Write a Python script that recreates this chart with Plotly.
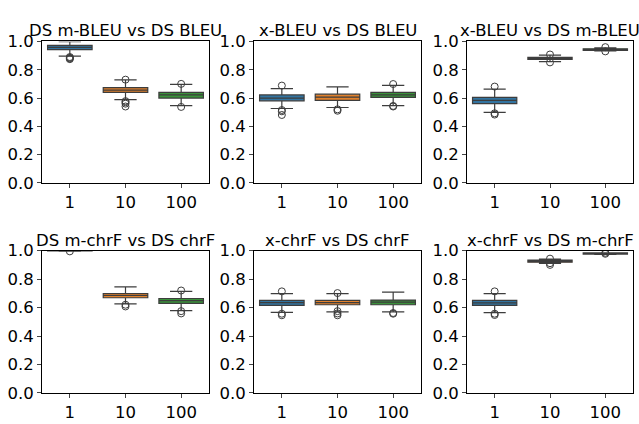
import plotly.graph_objects as go
from plotly.subplots import make_subplots

titles = ["DS m-BLEU vs DS BLEU", "x-BLEU vs DS BLEU", "x-BLEU vs DS m-BLEU",
          "DS m-chrF vs DS chrF", "x-chrF vs DS chrF", "x-chrF vs DS m-chrF"]
categories = ["1", "10", "100"]
colors = ["#3274a1", "#e1812c", "#3a923a"]

# per panel, per category: [lowerfence, q1, median, q3, upperfence]
stats = [
    [[0.897, 0.942, 0.958, 0.973, 0.998], [0.589, 0.640, 0.656, 0.674, 0.728], [0.546, 0.600, 0.622, 0.640, 0.697]],
    [[0.526, 0.580, 0.600, 0.622, 0.667], [0.533, 0.584, 0.607, 0.627, 0.679], [0.546, 0.604, 0.622, 0.640, 0.690]],
    [[0.499, 0.560, 0.584, 0.605, 0.663], [0.858, 0.874, 0.881, 0.888, 0.903], [0.933, 0.937, 0.944, 0.948, 0.955]],
    [[0.996, 0.998, 1.000, 1.000, 1.000], [0.626, 0.669, 0.685, 0.698, 0.745], [0.579, 0.629, 0.649, 0.664, 0.714]],
    [[0.566, 0.615, 0.635, 0.651, 0.698], [0.570, 0.620, 0.635, 0.651, 0.698], [0.570, 0.620, 0.638, 0.653, 0.709]],
    [[0.564, 0.615, 0.633, 0.651, 0.698], [0.910, 0.919, 0.926, 0.933, 0.940], [0.973, 0.976, 0.980, 0.984, 0.985]],
]
outliers = [
    [[0.875, 0.880, 0.885, 0.890], [0.730, 0.578, 0.570, 0.560, 0.540], [0.700, 0.537]],
    [[0.688, 0.515, 0.506, 0.480], [0.520, 0.510], [0.699, 0.544, 0.540]],
    [[0.681, 0.492, 0.483], [0.908, 0.852], [0.960, 0.930]],
    [[0.995], [0.620, 0.608], [0.720, 0.575, 0.559]],
    [[0.714, 0.557, 0.546], [0.702, 0.575, 0.559, 0.546], [0.562, 0.557]],
    [[0.714, 0.557, 0.548], [0.944, 0.900, 0.912], [0.985, 0.978]],
]

fig = make_subplots(rows=2, cols=3)
edge = "#3d3d3d"
for p in range(6):
    r, c = p // 3 + 1, p % 3 + 1
    for k in range(3):
        lf, q1, med, q3, uf = stats[p][k]
        fig.add_trace(go.Box(x=[k], q1=[q1], median=[med], q3=[q3], lowerfence=[lf], upperfence=[uf],
                             width=0.8, whiskerwidth=0.5, fillcolor=colors[k],
                             line=dict(color=edge, width=1.2), showlegend=False,
                             boxpoints=False), row=r, col=c)
        ys = outliers[p][k]
        fig.add_trace(go.Scatter(x=[k] * len(ys), y=ys, mode="markers", showlegend=False,
                                 marker=dict(symbol="circle-open", size=7, color=edge, line=dict(width=1))),
                      row=r, col=c)

xdom = [[42/639, 209/639], [254/639, 421/639], [467/639, 633/639]]
ydom = [[1-182/424, 1-34/424], [1-402/424, 1-253/424]]
font = dict(family="DejaVu Sans", size=16.5, color="black")
annotations = []
for p in range(6):
    r, c = p // 3, p % 3
    idx = "" if p == 0 else str(p + 1)
    fig.layout["xaxis" + idx].update(domain=xdom[c], range=[-0.5, 2.5], tickvals=[0, 1, 2],
                                     ticktext=categories, showline=True, mirror=True, linecolor="black",
                                     linewidth=1, ticks="outside", ticklen=4, showgrid=False,
                                     zeroline=False, tickfont=font)
    fig.layout["yaxis" + idx].update(domain=ydom[r], range=[0, 1], tickvals=[0, 0.2, 0.4, 0.6, 0.8, 1.0],
                                     tickformat=".1f", showline=True, mirror=True, linecolor="black",
                                     linewidth=1, ticks="outside", ticklen=4, showgrid=False,
                                     zeroline=False, tickfont=font)
    annotations.append(dict(text=titles[p], x=(xdom[c][0] + xdom[c][1]) / 2, y=ydom[r][1],
                            xref="paper", yref="paper", xanchor="center", yanchor="bottom",
                            yshift=-1, showarrow=False, font=font))

fig.update_layout(width=639, height=424, margin=dict(l=0, r=0, t=0, b=0),
                  plot_bgcolor="white", paper_bgcolor="white", annotations=annotations,
                  font=font)
fig.write_html("out.html")
